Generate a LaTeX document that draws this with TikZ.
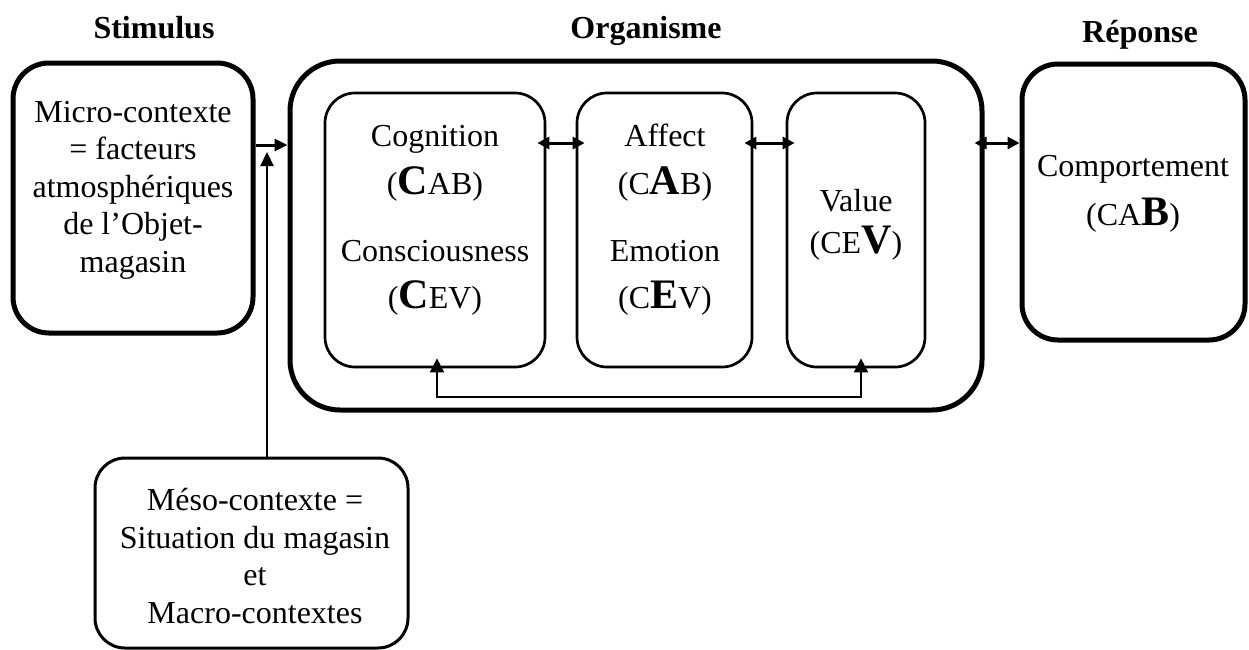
\documentclass[tikz,border=0pt]{standalone}
\usepackage{fontspec}
\setmainfont{Liberation Serif}
\usetikzlibrary{arrows.meta}
\begin{document}
\begin{tikzpicture}[x=1pt,y=-1pt,
  txt/.style={font=\fontsize{32}{37.5}\selectfont, align=center, inner sep=0pt},
  hdr/.style={font=\fontsize{32}{37.5}\selectfont\bfseries, inner sep=0pt, anchor=base},
  ln/.style={font=\fontsize{32}{37.5}\selectfont, inner sep=0pt, anchor=base},
  bigbox/.style={draw, line width=5pt, rounded corners=36pt, inner sep=0pt},
  orgbox/.style={draw, line width=5pt, rounded corners=50pt, inner sep=0pt},
  innerbox/.style={draw, line width=2.7pt, rounded corners=30pt, inner sep=0pt},
  mesobox/.style={draw, line width=3pt, rounded corners=30pt, inner sep=0pt},
  arr/.style={line width=3pt, -{Triangle[length=13pt,width=12pt]}},
  darr/.style={line width=3pt, {Triangle[length=12pt,width=12pt]}-{Triangle[length=12pt,width=12pt]}},
  varr/.style={line width=2.3pt, -{Triangle[length=14pt,width=13pt]}},
  loop/.style={line width=2pt, {Triangle[length=14pt,width=14pt]}-{Triangle[length=14pt,width=14pt]}},
]
\useasboundingbox (0,0) rectangle (1249,649);
\newcommand{\bigL}[1]{{\fontsize{42}{42}\selectfont\bfseries #1}}

% headers
\node[hdr] (hstim) at (154,38) {Stimulus};
\node[hdr] (horg) at (646,38) {Organisme};
\node[hdr] (hresp) at (1140,42) {Réponse};

% boxes
\node[bigbox, minimum width=240pt, minimum height=270pt] (stim) at (133,198) {};
\node[orgbox, minimum width=692pt, minimum height=349pt] (org) at (636,235.5) {};
\node[bigbox, minimum width=223pt, minimum height=276pt] (resp) at (1133.5,202) {};
\node[innerbox, minimum width=220pt, minimum height=274pt] (cog) at (435,230) {};
\node[innerbox, minimum width=175pt, minimum height=274pt] (aff) at (664.5,230) {};
\node[innerbox, minimum width=138pt, minimum height=274pt] (val) at (856,230) {};
\node[mesobox, minimum width=313pt, minimum height=190pt] (meso) at (251.5,553) {};

% texts
\node[txt] (tmicro) at (133,190) {Micro-contexte\\= facteurs\\atmosphériques\\de l’Objet-\\magasin};
\node[txt] (tmeso) at (255,556) {Méso-contexte =\\Situation du magasin\\et\\Macro-contextes};

\node[ln] (t1) at (435,146) {Cognition};
\node[ln] (t2) at (435,194) {(\bigL{C}AB)};
\node[ln] (t3) at (435,261) {Consciousness};
\node[ln] (t4) at (435,308) {(\bigL{C}EV)};

\node[ln] (t5) at (665,146) {Affect};
\node[ln] (t6) at (665,194) {(C\bigL{A}B)};
\node[ln] (t7) at (665,261) {Emotion};
\node[ln] (t8) at (665,308) {(C\bigL{E}V)};

\node[ln] (t9) at (856,211) {Value};
\node[ln] (t10) at (856,253) {(CE\bigL{V})};

\node[ln] (t11) at (1133,176) {Comportement};
\node[ln] (t12) at (1133,225) {(CA\bigL{B})};

% connectors
\coordinate (rowA) at (0,145);
\coordinate (rowB) at (0,143);
\coordinate (vtip) at (267,152);
\coordinate (L1) at (437,397);
\coordinate (L2) at (861,397);

\draw[arr] (stim.east |- rowA) -- (org.west |- rowA);
\draw[varr] (meso.north -| vtip) -- (vtip);
\draw[darr, shorten <=-9pt, shorten >=-9pt] (cog.east |- rowB) -- (aff.west |- rowB);
\draw[darr, shorten <=-9pt, shorten >=-9pt] (aff.east |- rowB) -- (val.west |- rowB);
\draw[darr, shorten <=-10pt] (org.east |- rowB) -- (resp.west |- rowB);
\draw[loop, shorten <=-10pt, shorten >=-10pt] (cog.south -| L1) -- (L1) -- (L2) -- (val.south -| L2);
\end{tikzpicture}
\end{document}
